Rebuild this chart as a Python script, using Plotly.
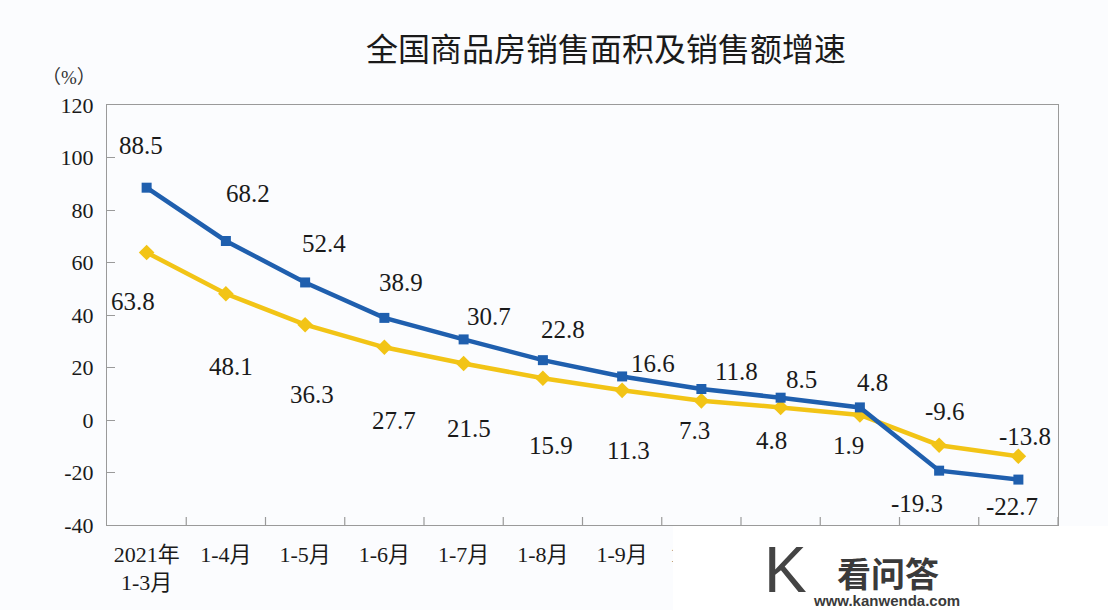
import plotly.graph_objects as go

# categories and series values (%)
categories   = ["2021年<br>1-3月", "1-4月", "1-5月", "1-6月", "1-7月", "1-8月", "1-9月",
                "1-10月", "1-11月", "1-12月", "2022年<br>1-2月", "1-3月"]
sales_amount = [88.5, 68.2, 52.4, 38.9, 30.7, 22.8, 16.6, 11.8, 8.5, 4.8, -19.3, -22.7]
sales_area   = [63.8, 48.1, 36.3, 27.7, 21.5, 15.9, 11.3, 7.3, 4.8, 1.9, -9.6, -13.8]
y_ticks      = [-40, -20, 0, 20, 40, 60, 80, 100, 120]

# label offsets in pixels (dx, dy screen-down)
amount_offsets = [(-6, -42), (22, -47), (19, -39), (17, -35), (25, -23), (20, -31),
                  (31, -13), (35, -18), (21, -18), (13, -25), (-22, 33), (-6, 27)]
area_offsets   = [(-14, 49), (5, 73), (7, 70), (10, 73), (5, 65), (8, 67),
                  (6, 60), (-7, 30), (-9, 33), (-11, 30), (6, -34), (7, -20)]

BLUE   = "#1f5fae"
YELLOW = "#f2c416"
BG     = "#fbfcfe"
SERIF  = "Liberation Serif, Noto Sans CJK SC, serif"

x_idx = list(range(len(categories)))

fig = go.Figure()
fig.add_trace(go.Scatter(
    x=x_idx, y=sales_area, mode="lines+markers", name="销售面积",
    line=dict(color=YELLOW, width=4.5),
    marker=dict(symbol="diamond", size=12, color=YELLOW),
))
fig.add_trace(go.Scatter(
    x=x_idx, y=sales_amount, mode="lines+markers", name="销售额",
    line=dict(color=BLUE, width=4.5),
    marker=dict(symbol="square", size=10, color=BLUE),
))

annotations = []
for vals, offs in ((sales_amount, amount_offsets), (sales_area, area_offsets)):
    for i, (v, (dx, dy)) in enumerate(zip(vals, offs)):
        annotations.append(dict(
            x=i, y=v, xref="x", yref="y", text=f"{v}", showarrow=False,
            xshift=dx, yshift=-dy, font=dict(family=SERIF, size=25, color="#1a1a1a"),
        ))

# title and unit (pixel positions, converted below)
annotations.append(dict(x=606, y=47, xref="paper", yref="paper", text="全国商品房销售面积及销售额增速",
                        showarrow=False, font=dict(family="Noto Sans CJK SC", size=32, color="#1a1a1a")))
annotations.append(dict(x=69, y=77, xref="paper", yref="paper", text="（%）", showarrow=False,
                        font=dict(family=SERIF, size=19, color="#333")))

# watermark
annotations.append(dict(x=888, y=572, xref="paper", yref="paper", text="<b>看问答</b>", showarrow=False,
                        font=dict(family="Noto Sans CJK SC", size=34, color="#3a3a3a")))
annotations.append(dict(x=886, y=600, xref="paper", yref="paper", text="<b>www.kanwenda.com</b>",
                        showarrow=False, font=dict(family="Liberation Sans", size=15, color="#3a3a3a")))
annotations.append(dict(x=785, y=570, xref="paper", yref="paper", text="K", showarrow=False,
                        font=dict(family="Liberation Sans", size=64, color="#444")))

# convert pixel-positioned paper annotations to paper fractions
W, H = 1108, 610
L, R, T, B = 107, 50, 105, 85
pw, ph = W - L - R, H - T - B
for a in annotations:
    if a.get("xref") == "paper":
        a["x"] = (a["x"] - L) / pw
        a["y"] = (H - B - a["y"]) / ph
        a["xanchor"] = "center"
        a["yanchor"] = "middle"

fig.update_layout(
    width=W, height=H,
    margin=dict(l=L, r=R, t=T, b=B),
    paper_bgcolor=BG, plot_bgcolor=BG,
    showlegend=False,
    annotations=annotations,
    shapes=[dict(type="rect", xref="paper", yref="paper",
                 x0=(673 - L) / pw, x1=(W - L) / pw, y0=(H - B - 610) / ph, y1=(H - B - 526) / ph,
                 fillcolor="#ffffff", line=dict(width=0), layer="above")],
)
fig.update_xaxes(
    type="linear", range=[-0.5, len(categories) - 0.5],
    tickvals=x_idx, ticktext=categories, ticks="",
    showline=True, linecolor="#9a9a9a", linewidth=1.2, mirror=True,
    showgrid=False, zeroline=False,
    tickfont=dict(family=SERIF, size=22, color="#1a1a1a"),
    ticklabelstandoff=9,
)
# boundary ticks on bottom axis
for b in range(1, len(categories) + 1):
    fig.add_shape(type="line", xref="x", yref="paper", x0=b - 0.5, x1=b - 0.5,
                  y0=0, y1=8 / ph, line=dict(color="#9a9a9a", width=1.2))
fig.update_yaxes(
    range=[-40, 120], tickvals=y_ticks, ticktext=[str(v) for v in y_ticks],
    ticks="inside", ticklen=8, tickcolor="#9a9a9a",
    showline=True, linecolor="#9a9a9a", linewidth=1.2, mirror=True,
    showgrid=False, zeroline=False,
    tickfont=dict(family=SERIF, size=22, color="#1a1a1a"),
    ticklabelstandoff=8,
)

fig.write_html("out.html", config={"displayModeBar": False},
               post_script="document.body.style.margin='0';")
